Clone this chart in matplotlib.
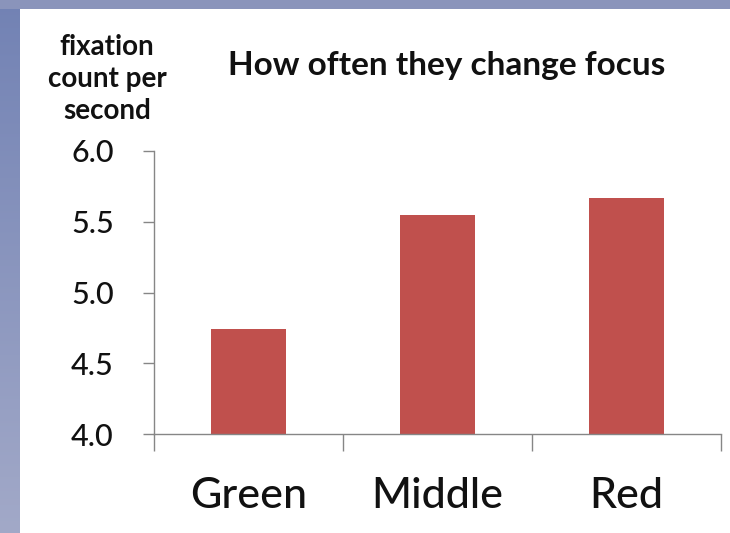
import numpy as np
import matplotlib
matplotlib.use("Agg")
import matplotlib.pyplot as plt
from matplotlib.patches import Rectangle
from matplotlib.colors import to_rgb

categories = ["Green", "Middle", "Red"]
values = [4.74, 5.55, 5.67]
y_ticks = [4.0, 4.5, 5.0, 5.5, 6.0]
y_tick_labels = ["4.0", "4.5", "5.0", "5.5", "6.0"]
title = "How often they change focus"
y_label = "fixation\ncount per\nsecond"

plt.rcParams["font.family"] = ["Lato", "DejaVu Sans"]

W, H = 730, 533
fig = plt.figure(figsize=(W / 100, H / 100), dpi=100)

# slide backdrop: blue gradient frame with a white content panel
bg = fig.add_axes([0, 0, 1, 1], zorder=-10)
bg.set_xlim(0, W)
bg.set_ylim(H, 0)
bg.axis("off")
top = np.array(to_rgb("#7282b4"))
bot = np.array(to_rgb("#a2a9c8"))
t = np.linspace(0, 1, 256)[:, None, None]
grad = np.repeat(top * (1 - t) + bot * t, 2, axis=1)
bg.imshow(grad, extent=(0, W, H, 0), aspect="auto", interpolation="bicubic")
bg.add_patch(Rectangle((0, 0), W, 9, facecolor="#8a94bb", edgecolor="none"))
bg.add_patch(Rectangle((20, 9), W - 20, H - 9, facecolor="white", edgecolor="none"))

axis_grey = "#868686"
text_col = "#111111"

ax = fig.add_axes([154 / W, 1 - 434 / H, 567 / W, 283 / H])
x = np.arange(len(categories))
ax.bar(x, values, width=0.4, color="#c0504d", zorder=2)
ax.set_xlim(-0.5, len(categories) - 0.5)
ax.set_ylim(y_ticks[0], y_ticks[-1])

for side in ("top", "right"):
    ax.spines[side].set_visible(False)
for side in ("left", "bottom"):
    ax.spines[side].set_color(axis_grey)
    ax.spines[side].set_linewidth(1.0)

ax.set_yticks(y_ticks, y_tick_labels)
ax.tick_params(axis="y", direction="out", length=8, width=1.0, color=axis_grey,
               labelsize=22, labelcolor=text_col, pad=21)
for lab in ax.get_yticklabels():
    lab.set_fontweight("medium")

# category separators as major ticks, names on minor ticks at bar centres
ax.set_xticks(np.arange(len(categories) + 1) - 0.5)
ax.set_xticklabels([])
ax.set_xticks(x, categories, minor=True)
ax.tick_params(axis="x", which="major", direction="out", length=12, width=1.0,
               color=axis_grey)
ax.tick_params(axis="x", which="minor", length=0, labelsize=31,
               labelcolor=text_col, pad=31)
for lab in ax.get_xticklabels(minor=True):
    lab.set_fontweight("medium")

fig.text(447 / W, 1 - 66 / H, title, ha="center", va="center",
         fontsize=24, fontweight="bold", color=text_col)
fig.text(107 / W, 1 - 79 / H, y_label, ha="center", va="center",
         multialignment="center", fontsize=20, fontweight="bold",
         color=text_col, linespacing=1.28)

fig.savefig("out.png", dpi=100)
